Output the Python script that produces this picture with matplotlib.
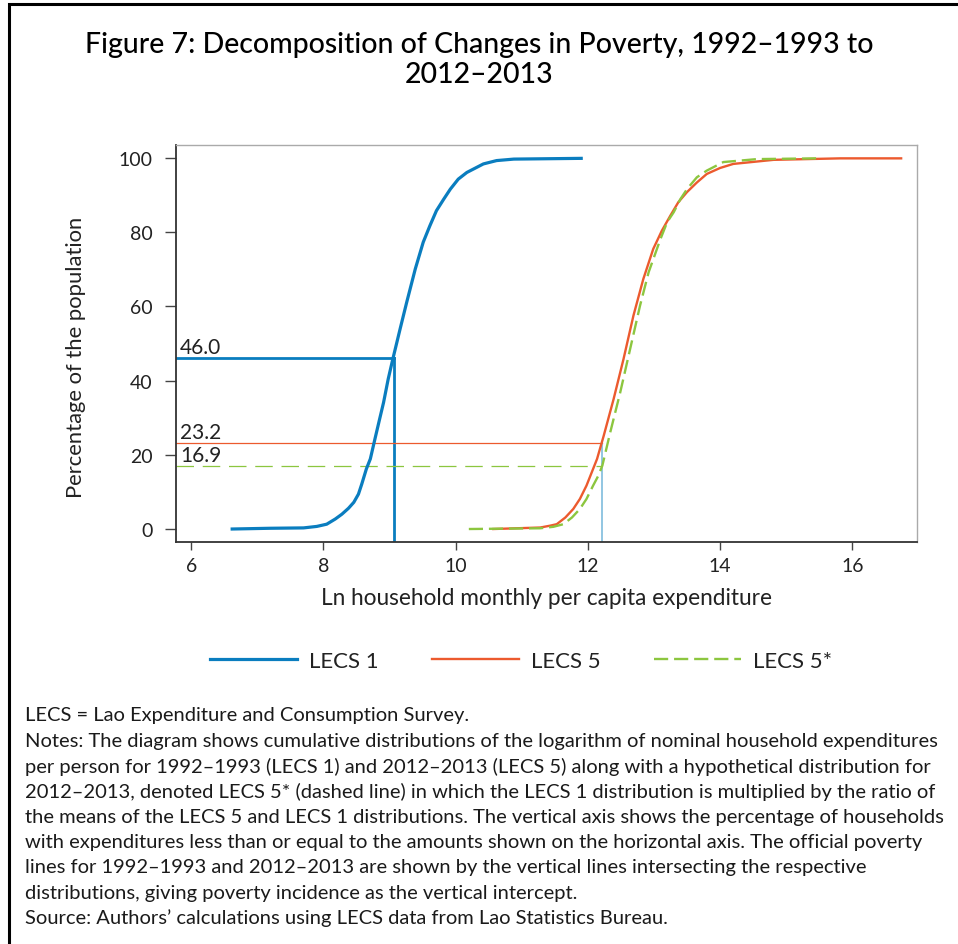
import matplotlib.pyplot as plt
from matplotlib.patches import Rectangle

plt.rcParams['font.family'] = ['Lato', 'DejaVu Sans']

# cumulative distributions (ln expenditure, % of households)
lecs1_x = [6.62, 7.19, 7.70, 7.90, 8.05, 8.18, 8.28, 8.38, 8.46, 8.53, 8.58, 8.65,
           8.71, 8.78, 8.85, 8.91, 8.98, 9.05, 9.16, 9.26, 9.39, 9.51, 9.61, 9.71,
           9.82, 9.92, 10.04, 10.17, 10.42, 10.62, 10.88, 11.90]
lecs1_y = [0.0, 0.2, 0.3, 0.7, 1.3, 2.7, 4.0, 5.6, 7.2, 9.4, 12.1, 16.2,
           18.9, 24.3, 29.6, 34.1, 40.4, 45.8, 53.9, 61.1, 70.1, 77.3, 81.7, 85.8,
           88.9, 91.6, 94.3, 96.1, 98.4, 99.3, 99.7, 99.9]

lecs5_x = [10.57, 11.28, 11.43, 11.53, 11.66, 11.78, 11.88, 11.98, 12.06, 12.14,
           12.24, 12.39, 12.54, 12.69, 12.84, 12.99, 13.12, 13.25, 13.37, 13.50,
           13.65, 13.80, 14.00, 14.20, 14.81, 15.82, 16.74]
lecs5_y = [0.0, 0.4, 0.9, 1.3, 3.1, 5.4, 8.1, 11.7, 15.3, 18.9,
           25.1, 35.0, 45.8, 57.5, 67.4, 75.5, 80.4, 84.5, 88.1, 90.8,
           93.4, 95.7, 97.3, 98.4, 99.5, 99.9, 99.9]

lecs5s_x = [10.20, 11.28, 11.48, 11.63, 11.76, 11.88, 11.98, 12.08, 12.16, 12.22,
            12.34, 12.49, 12.64, 12.79, 12.92, 13.10, 13.20, 13.30, 13.40, 13.50,
            13.65, 13.80, 14.05, 14.56, 15.47]
lecs5s_y = [0.0, 0.2, 0.6, 1.3, 3.1, 5.4, 8.1, 11.7, 14.4, 17.1,
            26.1, 36.8, 48.5, 60.2, 69.2, 78.2, 82.7, 85.4, 88.9, 91.6,
            94.8, 96.6, 98.9, 99.7, 99.9]

# poverty lines and incidence
pline_1 = 9.07
pline_5 = 12.22
pov_1 = 46.0
pov_5 = 23.2
pov_5s = 16.9

blue = '#0a7dbf'
red = '#ec5a2e'
green = '#8cc63f'
lightblue = '#74b6da'

notes = [
    "LECS = Lao Expenditure and Consumption Survey.",
    "Notes: The diagram shows cumulative distributions of the logarithm of nominal household expenditures",
    "per person for 1992\u20131993 (LECS 1) and 2012\u20132013 (LECS 5) along with a hypothetical distribution for",
    "2012\u20132013, denoted LECS 5* (dashed line) in which the LECS 1 distribution is multiplied by the ratio of",
    "the means of the LECS 5 and LECS 1 distributions. The vertical axis shows the percentage of households",
    "with expenditures less than or equal to the amounts shown on the horizontal axis. The official poverty",
    "lines for 1992\u20131993 and 2012\u20132013 are shown by the vertical lines intersecting the respective",
    "distributions, giving poverty incidence as the vertical intercept.",
    "Source: Authors\u2019 calculations using LECS data from Lao Statistics Bureau.",
]

fig = plt.figure(figsize=(9.58, 9.45), dpi=100)
fig.patches.append(Rectangle((9 / 958, -0.01), 1.0, 1 - 5 / 945 + 0.01, transform=fig.transFigure,
                             fill=False, edgecolor='black', linewidth=2.2))

fig.text(0.5, 1 - 45 / 945, "Figure 7: Decomposition of Changes in Poverty, 1992\u20131993 to",
         ha='center', va='center', fontsize=20.5, fontweight='medium')
fig.text(0.5, 1 - 75 / 945, "2012\u20132013", ha='center', va='center', fontsize=20.5, fontweight='medium')

ax = fig.add_axes([176 / 958, 1 - 543 / 945, (917 - 176) / 958, (543 - 146) / 945])
ax.set_xlim(5.77, 16.98)
ax.set_ylim(-3.5, 103.5)

ax.plot(lecs1_x, lecs1_y, color=blue, lw=2.3, label='LECS 1', zorder=3)
ax.plot(lecs5_x, lecs5_y, color=red, lw=1.7, label='LECS 5', zorder=3)
ax.plot(lecs5s_x, lecs5s_y, color=green, lw=1.7, dashes=(6, 2.5), label='LECS 5*', zorder=4)

# poverty line markers
ax.plot([5.77, pline_1], [pov_1, pov_1], color=blue, lw=2.0)
ax.plot([pline_1, pline_1], [-3.5, pov_1], color=blue, lw=2.0)
ax.plot([5.77, pline_5], [pov_5, pov_5], color=red, lw=0.9)
ax.plot([5.77, pline_5], [pov_5s, pov_5s], color=green, lw=0.9, dashes=(14, 7))
ax.plot([pline_5, pline_5], [-3.5, pov_5], color=lightblue, lw=1.1)

for val in (pov_1, pov_5, pov_5s):
    ax.text(5.83, val + 0.3, f"{val:.1f}", fontsize=15, color='#222222', va='bottom', ha='left')

ax.set_xticks([6, 8, 10, 12, 14, 16])
ax.set_yticks([0, 20, 40, 60, 80, 100])
ax.tick_params(axis='x', length=6, width=1, color='#444444', labelsize=14, pad=5, labelcolor='#222222')
ax.tick_params(axis='y', length=8, width=1, color='#444444', labelsize=14, pad=9, labelcolor='#222222')
for side in ('left', 'bottom'):
    ax.spines[side].set_color('#333333')
    ax.spines[side].set_linewidth(1.3)
for side in ('top', 'right'):
    ax.spines[side].set_color('#aaaaaa')
    ax.spines[side].set_linewidth(1.0)

ax.set_xlabel("Ln household monthly per capita expenditure", fontsize=16.3, color='#222222', labelpad=9)
ax.set_ylabel("Percentage of the population", fontsize=15.8, color='#222222')
ax.yaxis.set_label_coords(-0.122, 0.468)

h, l = ax.get_legend_handles_labels()
fig.legend(h, l, loc='center', bbox_to_anchor=(0.5 + 42 / 958, 1 - 662 / 945), ncol=3, frameon=False,
           fontsize=16, handlelength=3.9, columnspacing=2.4, handletextpad=0.55, labelcolor='#222222')

for i, line in enumerate(notes):
    fig.text(25 / 958, 1 - (716 + i * 25.3) / 945, line, ha='left', va='center', fontsize=14.5, color='#1a1a1a')

fig.savefig('out.png', dpi=100)
